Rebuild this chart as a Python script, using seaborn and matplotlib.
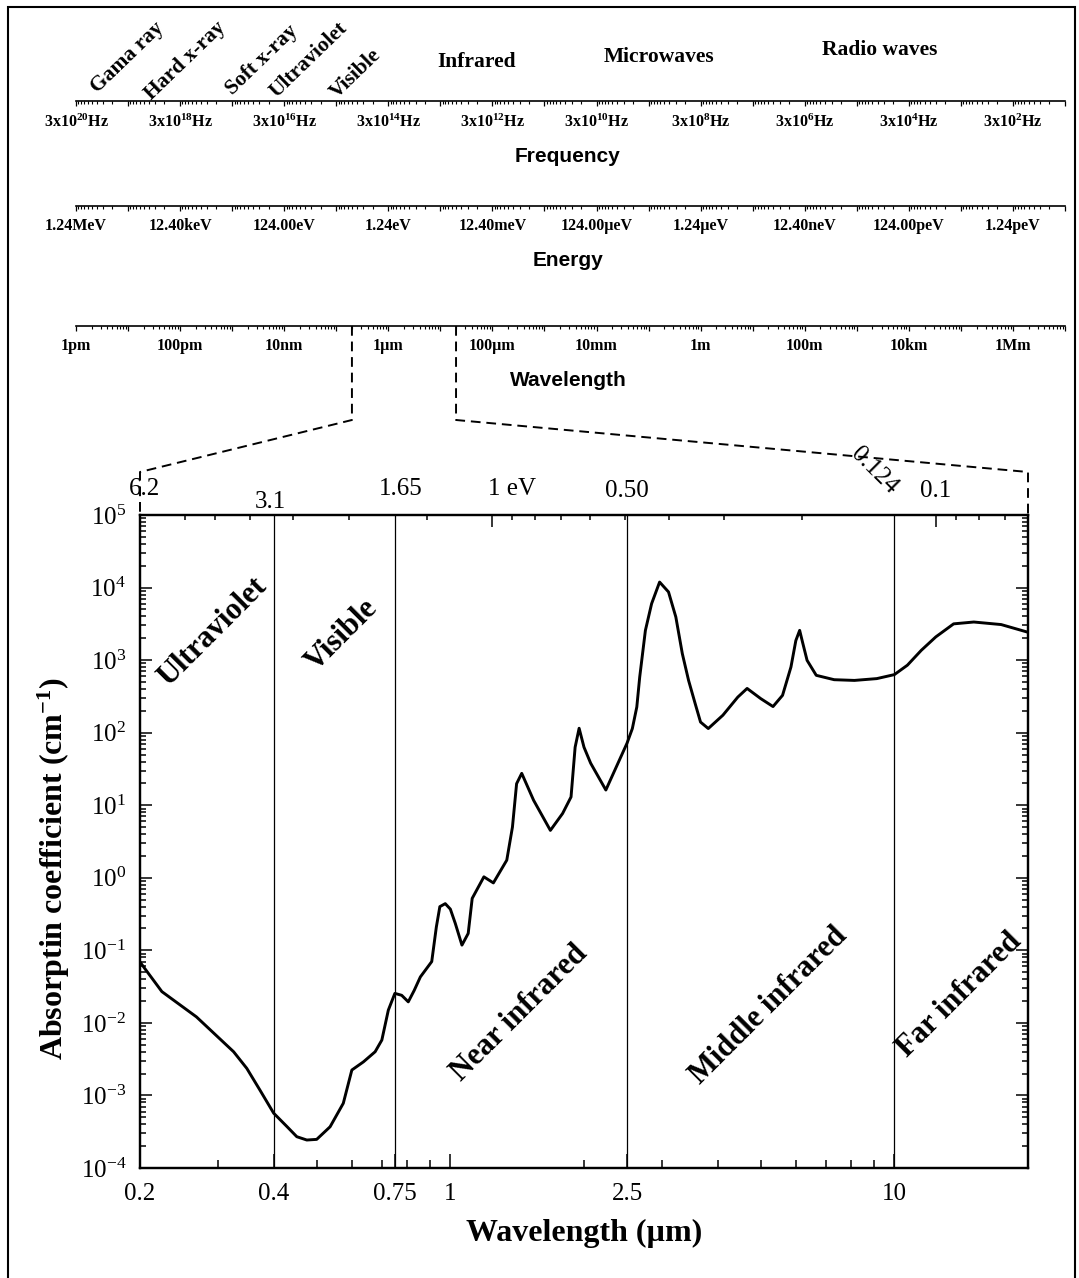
import numpy as np
import pandas as pd
import matplotlib
matplotlib.use('Agg')
import matplotlib.pyplot as plt
import seaborn as sns
from matplotlib.ticker import FixedLocator, FixedFormatter, NullFormatter, LogLocator
from matplotlib.transforms import blended_transform_factory, ScaledTranslation
from matplotlib.lines import Line2D
from matplotlib.patches import Rectangle

# ---------------- data ----------------
wavelength_um = [0.2, 0.224, 0.268, 0.325, 0.348, 0.373, 0.4, 0.429, 0.451, 0.475,
                 0.5, 0.536, 0.574, 0.6, 0.637, 0.677, 0.701, 0.725, 0.75, 0.777,
                 0.804, 0.829, 0.856, 0.908, 0.93, 0.947, 0.974, 1.0, 1.026, 1.062,
                 1.097, 1.12, 1.19, 1.25, 1.34, 1.38, 1.41, 1.448, 1.54, 1.68,
                 1.79, 1.87, 1.91, 1.95, 2.0, 2.07, 2.24, 2.5, 2.57, 2.63,
                 2.67, 2.75, 2.84, 2.96, 3.1, 3.22, 3.33, 3.44, 3.56, 3.66,
                 3.81, 4.11, 4.44, 4.66, 5.0, 5.33, 5.6, 5.85, 6.0, 6.12,
                 6.21, 6.36, 6.67, 7.32, 8.13, 9.13, 10.0, 10.7, 11.5, 12.4,
                 13.6, 15.1, 17.4, 20.0]
absorption = [0.069, 0.027, 0.0121, 0.0040, 0.00236, 0.00117, 0.00057, 0.00037, 0.00027, 0.000243,
              0.000248, 0.00037, 0.00078, 0.00224, 0.0029, 0.0040, 0.0058, 0.015, 0.0255, 0.024,
              0.0195, 0.028, 0.043, 0.07, 0.21, 0.40, 0.44, 0.37, 0.235, 0.118,
              0.171, 0.52, 1.03, 0.85, 1.75, 5.0, 19.8, 27.5, 11.7, 4.5,
              7.7, 13.0, 63.0, 115.0, 63.0, 38.0, 16.2, 71.6, 114.0, 226.0,
              585.0, 2570.0, 6000.0, 11900.0, 8700.0, 3930.0, 1230.0, 525.0, 251.0, 140.0,
              114.0, 174.0, 309.0, 407.0, 295.0, 229.0, 327.0, 804.0, 1860.0, 2570.0,
              1780.0, 993.0, 617.0, 537.0, 525.0, 556.0, 631.0, 851.0, 1365.0, 2090.0,
              3160.0, 3350.0, 3090.0, 2420.0]

boundary_um = [0.4, 0.75, 2.5, 10]
bottom_tick_um = [0.2, 0.4, 0.75, 1, 2.5, 10]
bottom_tick_labels = ['0.2', '0.4', '0.75', '1', '2.5', '10']
bottom_minor_um = [0.3, 0.5, 0.6, 0.7, 0.8, 0.9, 2, 3, 4, 5, 6, 7, 8, 9]
y_exponents = [-4, -3, -2, -1, 0, 1, 2, 3, 4, 5]

top_label_ev = [6.2, 3.1, 1.65, 1, 0.50, 0.124, 0.1]
top_label_text = ['6.2', '3.1', '1.65', '1 eV', '0.50', '0.124', '0.1']
top_major_ev = [1, 0.1]
top_minor_ev = [4.9, 4.2, 3.5, 2.8, 2.1, 1.4, 0.9, 0.8, 0.7, 0.6, 0.5, 0.4, 0.3, 0.2,
                0.09, 0.08, 0.07]

region_labels = ['Ultraviolet', 'Visible', 'Near infrared', 'Middle infrared', 'Far infrared']

freq_exponents = list(range(1, 21))
freq_label_exponents = [20, 18, 16, 14, 12, 10, 8, 6, 4, 2]
energy_exponents = list(range(-13, 7))
energy_label_map = {6: '1.24MeV', 4: '12.40keV', 2: '124.00eV', 0: '1.24eV', -2: '12.40meV',
                    -4: '124.00µeV', -6: '1.24µeV', -8: '12.40neV', -10: '124.00peV',
                    -12: '1.24peV'}
wl_exponents = list(range(-12, 8))
wl_label_map = {-12: '1pm', -10: '100pm', -8: '10nm', -6: '1µm', -4: '100µm', -2: '10mm',
                0: '1m', 2: '100m', 4: '10km', 6: '1Mm'}
band_labels_rot = ['Gama ray', 'Hard x-ray', 'Soft x-ray', 'Ultraviolet', 'Visible']
band_labels_flat = ['Infrared', 'Microwaves', 'Radio waves']
zoom_window_m = [2e-7, 2e-5]

# ---------------- style ----------------
sns.set_theme(style='ticks')
plt.rcParams['font.family'] = ['Liberation Serif', 'DejaVu Serif']
plt.rcParams['mathtext.fontset'] = 'custom'
plt.rcParams['mathtext.rm'] = 'Liberation Serif'
plt.rcParams['mathtext.it'] = 'Liberation Serif:italic'
plt.rcParams['mathtext.bf'] = 'Liberation Serif:bold'
for k in ['axes.edgecolor', 'xtick.color', 'ytick.color', 'text.color', 'axes.labelcolor']:
    plt.rcParams[k] = 'black'

W, H = 1079, 1278
fig = plt.figure(figsize=(W / 100, H / 100), dpi=100)
fig.patch.set_facecolor('white')


def fx(px):
    return px / W


def fy(py):
    return 1 - py / H


# ---------------- main axes ----------------
ax = fig.add_axes([fx(140), fy(1168), (1028 - 140) / W, (1168 - 515) / H])
df = pd.DataFrame({'wavelength': wavelength_um, 'alpha': absorption})
sns.lineplot(data=df, x='wavelength', y='alpha', ax=ax, color='black', linewidth=2.1,
             legend=False, zorder=3)
for ln in ax.get_lines():
    ln.set_solid_joinstyle('round')
    ln.set_solid_capstyle('round')
ax.set_xscale('log')
ax.set_yscale('log')
ax.set_xlim(0.2, 20)
ax.set_ylim(1e-4, 1e5)
for b in boundary_um:
    ax.axvline(b, color='black', lw=0.9, zorder=1)

ax.xaxis.set_major_locator(FixedLocator(bottom_tick_um))
ax.xaxis.set_major_formatter(FixedFormatter(bottom_tick_labels))
ax.xaxis.set_minor_locator(FixedLocator(bottom_minor_um))
ax.xaxis.set_minor_formatter(NullFormatter())
ax.yaxis.set_major_locator(FixedLocator([10.0 ** e for e in y_exponents]))
ax.yaxis.set_major_formatter(FixedFormatter([f'10$^{{{e}}}$' for e in y_exponents]))
ax.yaxis.set_minor_locator(LogLocator(base=10, subs=np.arange(2, 10), numticks=100))
ax.yaxis.set_minor_formatter(NullFormatter())
ax.tick_params(axis='both', which='both', direction='in', top=False, right=True,
               width=1.1, colors='black')
ax.tick_params(axis='x', which='major', length=10, pad=11, labelsize=18)
ax.tick_params(axis='x', which='minor', length=5.8)
ax.tick_params(axis='y', which='major', length=8.6, pad=10, labelsize=18)
ax.tick_params(axis='y', which='minor', length=4.3)
for s in ax.spines.values():
    s.set_linewidth(1.6)
    s.set_color('black')
ax.grid(False)
ax.set_xlabel('Wavelength (µm)', fontsize=23, fontweight='bold')
ax.xaxis.set_label_coords(0.5, -0.078)
ax.set_ylabel('Absorptin coefficient (cm$^{\\mathbf{-1}}$)', fontsize=23, fontweight='bold')
ax.yaxis.set_label_coords(-0.077, 0.459)

# top energy axis
ax2 = ax.twiny()
ax2.set_xscale('log')
ax2.set_xlim(0.2, 20)
ax2.xaxis.set_major_locator(FixedLocator([1.24 / e for e in top_major_ev]))
ax2.xaxis.set_minor_locator(FixedLocator([1.24 / e for e in top_minor_ev]))
ax2.xaxis.set_major_formatter(NullFormatter())
ax2.xaxis.set_minor_formatter(NullFormatter())
ax2.tick_params(axis='x', which='major', direction='in', length=8.6, width=1.1)
ax2.tick_params(axis='x', which='minor', direction='in', length=3.6, width=1.1)
for s in ax2.spines.values():
    s.set_linewidth(1.6)
    s.set_color('black')

top_trans = blended_transform_factory(ax.transData, ax.transAxes)
top_styles = [(5, 26, 0, 'center'), (-3, 13, 0, 'center'), (5, 26, 0, 'center'),
              (-4, 26, 0, 'left'), (1, 24, 0, 'center'), (-20, 44, -45, 'center'),
              (0, 24, 0, 'center')]
for ev, txt, (dx, dy, rot, ha) in zip(top_label_ev, top_label_text, top_styles):
    tr = top_trans + ScaledTranslation(dx / 100, dy / 100, fig.dpi_scale_trans)
    ax.text(1.24 / ev, 1.0, txt, transform=tr, fontsize=18, ha=ha, va='center',
            rotation=rot, rotation_mode='anchor')

# rotated region labels inside the plot
region_pos = [(213, 632), (342, 635), (519, 1013), (769, 1006), (959, 995)]
for lab, (px, py) in zip(region_labels, region_pos):
    fig.text(fx(px), fy(py), lab, fontsize=22, fontweight='bold', rotation=45,
             rotation_mode='anchor', ha='center', va='center')

# ---------------- spectrum strips ----------------
def make_strip(y_spine):
    s = fig.add_axes([fx(76), fy(y_spine), (1065 - 76) / W, 0.02])
    s.set_facecolor('none')
    for side in ['top', 'left', 'right']:
        s.spines[side].set_visible(False)
    s.spines['bottom'].set_linewidth(1.2)
    s.spines['bottom'].set_color('black')
    s.set_yticks([])
    s.set_ylim(0, 1)
    s.set_xscale('log')
    s.tick_params(axis='x', which='major', direction='out', length=3.8, width=0.9, pad=5)
    s.tick_params(axis='x', which='minor', direction='out', length=2.4, width=0.8)
    s.grid(False)
    return s


# Frequency
sf = make_strip(101)
sf.set_xlim(3e20, 3e1)
sf.xaxis.set_minor_locator(FixedLocator([3 * 10.0 ** n * k for n in range(1, 20) for k in range(2, 10)]))
sf.xaxis.set_minor_formatter(NullFormatter())
sf.set_xticks([3 * 10.0 ** n for n in freq_exponents],
              labels=[f'3x10$^{{\\mathbf{{{n}}}}}$Hz' if n in freq_label_exponents else ''
                      for n in freq_exponents],
              fontsize=11.5, fontweight='bold')

# Energy
se = make_strip(206)
se.set_xlim(1.24e6, 1.24e-13)
se.xaxis.set_minor_locator(FixedLocator([1.24 * 10.0 ** n * k for n in range(-13, 6) for k in range(2, 10)]))
se.xaxis.set_minor_formatter(NullFormatter())
se.set_xticks([1.24 * 10.0 ** n for n in energy_exponents],
              labels=[energy_label_map.get(n, '') for n in energy_exponents],
              fontsize=11.5, fontweight='bold')

# Wavelength
sw = make_strip(326)
sw.set_xlim(1e-12, 1e7)
sw.xaxis.set_minor_locator(FixedLocator([10.0 ** n * k for n in range(-12, 7) for k in range(2, 10)]))
sw.xaxis.set_minor_formatter(NullFormatter())
sw.set_xticks([10.0 ** n for n in wl_exponents],
              labels=[wl_label_map.get(n, '') for n in wl_exponents],
              fontsize=11.5, fontweight='bold')

for title, py in zip(['Frequency', 'Energy', 'Wavelength'], [157, 260, 380]):
    fig.text(fx(568), fy(py), title, family='Liberation Sans', fontweight='bold',
             fontsize=15, ha='center', va='center')

band_rot_pos = [(127, 58), (185, 61), (262, 60), (309, 60), (356, 74)]
for lab, (px, py) in zip(band_labels_rot, band_rot_pos):
    fig.text(fx(px), fy(py), lab, fontsize=15.5, fontweight='bold', rotation=44,
             rotation_mode='anchor', ha='center', va='center')
band_flat_pos = [(477, 62), (659, 57), (880, 50)]
for lab, (px, py) in zip(band_labels_flat, band_flat_pos):
    fig.text(fx(px), fy(py), lab, fontsize=15.5, fontweight='bold', ha='center', va='center')

# ---------------- dashed zoom connectors ----------------
to_fig = fig.transFigure.inverted()
main_ends = [0.2, 20]
for wl_m, main_x in zip(zoom_window_m, main_ends):
    x_top, y_top = sw.transData.transform((wl_m, 0))
    x_bot, y_bot = ax.transData.transform((main_x, 1e5))
    pts_disp = np.array([[x_top, y_top], [x_top, H - 420], [x_bot, H - 472], [x_bot, y_bot]])
    pts = to_fig.transform(pts_disp)
    fig.add_artist(Line2D(pts[:, 0], pts[:, 1], transform=fig.transFigure, color='black',
                          lw=1.4, linestyle=(0, (5, 3))))

# figure frame
fig.add_artist(Rectangle((fx(7.5), -0.01), (1075 - 7.5) / W, 1.01 - 7.3 / H,
                         transform=fig.transFigure, fill=False, edgecolor='black', lw=1.5))

fig.savefig('out.png', dpi=100, facecolor='white')
